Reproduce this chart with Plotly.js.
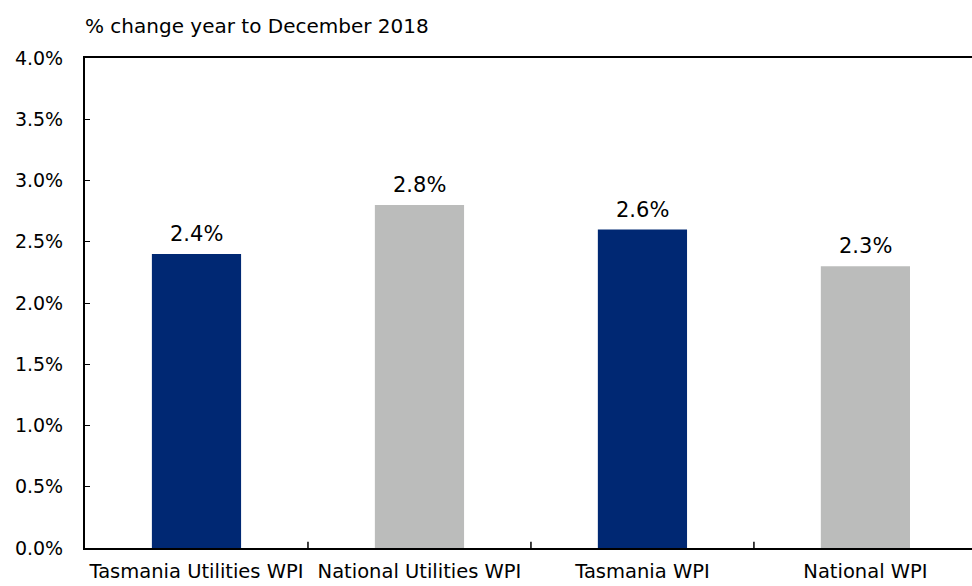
<!DOCTYPE html>
<html>
<head>
<meta charset="utf-8">
<script src="https://cdn.plot.ly/plotly-3.0.1.min.js"></script>
<style>html,body{margin:0;padding:0;background:#fff;}#chart{width:972px;height:586px;}</style>
</head>
<body>
<div id="chart"></div>
<script>
const categories = ["Tasmania Utilities WPI", "National Utilities WPI", "Tasmania WPI", "National WPI"];
const values = [2.4, 2.8, 2.6, 2.3];
const barColors = ["#002873", "#BBBCBB", "#002873", "#BBBCBB"];
const yTickVals = [0, 0.5, 1.0, 1.5, 2.0, 2.5, 3.0, 3.5, 4.0];
const titleText = "% change year to December 2018";

const font = "DejaVu Sans, Verdana, sans-serif";

const trace = {
  type: "bar",
  x: categories,
  y: values,
  marker: {color: barColors, line: {width: 0}},
  width: 0.4,
  cliponaxis: false,
  hoverinfo: "none"
};

const labelAnnotations = categories.map((c, i) => ({
  x: c, y: values[i], xref: "x", yref: "y",
  text: values[i].toFixed(1) + "%",
  showarrow: false,
  xanchor: "center", yanchor: "bottom",
  yshift: 6,
  font: {family: font, size: 21, color: "#000"}
}));

const layout = {
  width: 972, height: 586,
  margin: {l: 85, r: 0, t: 58, b: 38},
  paper_bgcolor: "#fff", plot_bgcolor: "#fff",
  showlegend: false,
  font: {family: font, size: 19, color: "#000"},
  title: {
    text: titleText,
    font: {family: font, size: 20, color: "#000"},
    x: 0, xref: "paper", xanchor: "left",
    y: 1, yref: "paper", yanchor: "bottom",
    pad: {b: 25}
  },
  xaxis: {
    type: "category",
    range: [-0.5, 3.478],
    showline: true, linecolor: "#000", linewidth: 2,
    mirror: true,
    showgrid: false, zeroline: false,
    ticks: "",
    tickfont: {family: font, size: 19.5, color: "#000"},
    ticklabelstandoff: 5,
    fixedrange: true
  },
  yaxis: {
    range: [0, 4.0],
    tickvals: yTickVals,
    ticktext: yTickVals.map(v => v.toFixed(1) + "%"),
    showline: true, linecolor: "#000", linewidth: 2,
    showgrid: false, zeroline: false,
    ticks: "inside", ticklen: 5, tickcolor: "#000", tickwidth: 1,
    tickfont: {family: font, size: 19, color: "#000"},
    ticklabelstandoff: 16,
    fixedrange: true
  },
  annotations: labelAnnotations,
  shapes: [0.5, 1.5, 2.5].map(b => ({
    type: "line", xref: "x", yref: "paper",
    x0: b, x1: b, y0: 0, y1: 0.013,
    line: {color: "#000", width: 1.5}
  }))
};

Plotly.newPlot("chart", [trace], layout, {displayModeBar: false, staticPlot: true});
</script>
</body>
</html>
